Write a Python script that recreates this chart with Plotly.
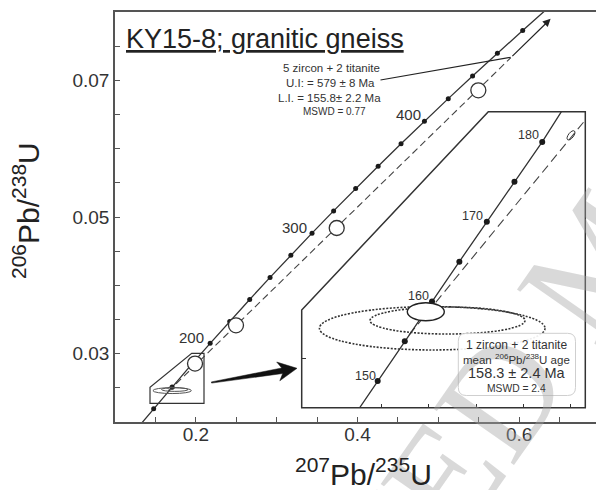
import plotly.graph_objects as go

# ---------------- data ----------------
# Concordia (main panel): ages in Ma and the matching ratios
conc_ages = [120, 140, 160, 180, 200, 220, 240, 260, 280, 300, 320, 340,
             360, 380, 400, 420, 440, 460, 480, 500]
conc_x = [0.125449, 0.147837, 0.170670, 0.193957, 0.217708, 0.241930, 0.266635,
          0.291832, 0.317529, 0.343738, 0.370468, 0.397729, 0.425533, 0.453890,
          0.482812, 0.512308, 0.542391, 0.573073, 0.604365, 0.636279]
conc_y = [0.018789, 0.021955, 0.025131, 0.028316, 0.031511, 0.034717, 0.037932,
          0.041157, 0.044392, 0.047637, 0.050893, 0.054158, 0.057434, 0.060720,
          0.064016, 0.067322, 0.070638, 0.073965, 0.077302, 0.080650]
main_label_ages = [200, 300, 400]

# Concordia (inset)
inset_ages = [145, 150, 155, 160, 165, 170, 175, 180, 185]
inset_x = [0.153503, 0.159197, 0.164919, 0.170670, 0.176449, 0.182256, 0.188092,
           0.193957, 0.199851]
inset_y = [0.022748, 0.023542, 0.024336, 0.025131, 0.025926, 0.026722, 0.027519,
           0.028316, 0.029196]
inset_label_ages = [150, 160, 170, 180]

# Discordia: lower and upper intercepts (155.8 Ma, 579 Ma)
disc_x = [0.165837, 0.768671]
disc_y = [0.024463, 0.093955]

# Analyses (open circles)
samp_x = [0.199, 0.2497, 0.3743, 0.5495]
samp_y = [0.02855, 0.03415, 0.04839, 0.06854]

# Error ellipses: centre x, centre y, half-width x, half-height y
ell_cx = [0.17072, 0.17395, 0.16936]
ell_cy = [0.024595, 0.024750, 0.024926]
ell_sx = [0.02383, 0.016374, 0.00391]
ell_sy = [0.000433, 0.000270, 0.000180]
ell_kind = ["titanite", "titanite", "zircon"]
small_ell = [0.20004, 0.028448]   # inherited zircon, top right of inset

x_tickvals = [0.2, 0.4, 0.6]
x_ticktext = ["0.2", "0.4", "0.6"]
y_tickvals = [0.03, 0.05, 0.07]
y_ticktext = ["0.03", "0.05", "0.07"]
inset_xticks = [0.16, 0.17, 0.18, 0.19, 0.20]
inset_yticks = [0.024]

# ---------------- layout helpers ----------------
W_FIG, H_FIG = 596, 490
ML, MR, MT, MB = 115, 0, 12, 68
PW, PH = W_FIG - ML - MR, H_FIG - MT - MB
BOT = H_FIG - MB

def P(px, py):
    return ((px - ML) / PW, (BOT - py) / PH)

XR = [0.1, 0.1 + PW / 808.3]
YR = [0.02, 0.08]

# inset frame in pixels
IX0, IX1, IY0, IY1 = 301.7, 585.3, 111.7, 407.7
IXR = [0.14314, 0.20306]
IYR = [0.023009, 0.028920]
sx_in = (IX1 - IX0) / (IXR[1] - IXR[0])
sy_in = (IY1 - IY0) / (IYR[1] - IYR[0])

def disc_x_at(yv):
    return disc_x[0] + (yv - disc_y[0]) * (disc_x[1] - disc_x[0]) / (disc_y[1] - disc_y[0])

def path_paper(points, close=True):
    s = ""
    for i, (px, py) in enumerate(points):
        a, b = P(px, py)
        s += ("M" if i == 0 else "L") + f"{a:.5f},{b:.5f} "
    return s + ("Z" if close else "")

def rounded_rect(x0, y0, x1, y1, r):
    def p(px, py):
        a, b = P(px, py)
        return f"{a:.5f},{b:.5f}"
    return (f"M{p(x0 + r, y0)} L{p(x1 - r, y0)} Q{p(x1, y0)} {p(x1, y0 + r)} "
            f"L{p(x1, y1 - r)} Q{p(x1, y1)} {p(x1 - r, y1)} L{p(x0 + r, y1)} "
            f"Q{p(x0, y1)} {p(x0, y1 - r)} L{p(x0, y0 + r)} Q{p(x0, y0)} {p(x0 + r, y0)} Z")

def tilted_ellipse_path(cxd, cyd, a, b, ang_deg):
    import math
    cx = IX0 + (cxd - IXR[0]) * sx_in
    cy = IY1 - (cyd - IYR[0]) * sy_in
    t = math.radians(ang_deg)
    u = (math.cos(t), -math.sin(t))
    v = (math.sin(t), math.cos(t))
    k = 0.5523
    def pt(ca, cb):
        px = cx + ca * a * u[0] + cb * b * v[0]
        py = cy + ca * a * u[1] + cb * b * v[1]
        X = IXR[0] + (px - IX0) / sx_in
        Y = IYR[0] + (IY1 - py) / sy_in
        return f"{X:.6f},{Y:.6f}"
    return (f"M{pt(1,0)} C{pt(1,k)} {pt(k,1)} {pt(0,1)} C{pt(-k,1)} {pt(-1,k)} {pt(-1,0)} "
            f"C{pt(-1,-k)} {pt(-k,-1)} {pt(0,-1)} C{pt(k,-1)} {pt(1,-k)} {pt(1,0)} Z")

FONT = "Liberation Sans, Arial, sans-serif"
DARK = "#333333"

fig = go.Figure()

# ---------------- main panel ----------------
y_dash_end, y_tip = 0.07333, 0.0790
fig.add_trace(go.Scatter(x=[disc_x[0], disc_x_at(y_dash_end)], y=[disc_y[0], y_dash_end],
                         mode="lines", line=dict(color="#444", width=1.1, dash="7px,4px"),
                         xaxis="x", yaxis="y", hoverinfo="skip"))
fig.add_trace(go.Scatter(x=conc_x, y=conc_y, mode="lines",
                         line=dict(color=DARK, width=1.3), xaxis="x", yaxis="y", hoverinfo="skip"))
fig.add_trace(go.Scatter(x=conc_x[1:-1], y=conc_y[1:-1], mode="markers",
                         marker=dict(color="#1a1a1a", size=5), xaxis="x", yaxis="y", hoverinfo="skip"))
fig.add_trace(go.Scatter(x=samp_x, y=samp_y, mode="markers",
                         marker=dict(color="white", size=15, line=dict(color=DARK, width=1.3)),
                         xaxis="x", yaxis="y", hoverinfo="skip"))

# ---------------- inset panel ----------------
fig.add_trace(go.Scatter(x=disc_x, y=disc_y, mode="lines",
                         line=dict(color="#444", width=1.1, dash="9px,5px"),
                         xaxis="x2", yaxis="y2", hoverinfo="skip"))
fig.add_trace(go.Scatter(x=inset_x, y=inset_y, mode="lines",
                         line=dict(color=DARK, width=1.3), xaxis="x2", yaxis="y2", hoverinfo="skip"))
fig.add_trace(go.Scatter(x=inset_x[1:-1], y=inset_y[1:-1], mode="markers",
                         marker=dict(color="#1a1a1a", size=6), xaxis="x2", yaxis="y2", hoverinfo="skip"))

shapes = []
# ellipses in inset and main panel
for cx, cy, sxv, syv, kind in zip(ell_cx, ell_cy, ell_sx, ell_sy, ell_kind):
    dotted = kind == "titanite"
    shapes.append(dict(type="circle", xref="x2", yref="y2",
                       x0=cx - sxv, x1=cx + sxv, y0=cy - syv, y1=cy + syv,
                       line=dict(color="#333" if dotted else "#222", width=1.6 if dotted else 1.4,
                                 dash="2px,1.5px" if dotted else "solid"),
                       fillcolor="white" if not dotted else "rgba(0,0,0,0)", layer="above"))
    shapes.append(dict(type="circle", xref="x", yref="y",
                       x0=cx - sxv, x1=cx + sxv, y0=cy - syv, y1=cy + syv,
                       line=dict(color="#555", width=1), layer="above"))
shapes.append(dict(type="path", xref="x2", yref="y2",
                   path=tilted_ellipse_path(small_ell[0], small_ell[1], 5.5, 2.6, 52),
                   line=dict(color="#333", width=1), layer="above"))

# zoom box in main panel
box = [(150, 387.3), (150, 403.3), (204, 403.3), (204, 353.3), (191.7, 353.3)]
shapes.append(dict(type="path", xref="paper", yref="paper", path=path_paper(box),
                   line=dict(color="#333", width=1.2), layer="below"))

# inset outline
outline = [(IX0, IY1), (IX1, IY1), (IX1, IY0), (488.3, IY0), (IX0, 310)]
shapes.append(dict(type="path", xref="paper", yref="paper", path=path_paper(outline),
                   line=dict(color="#333", width=1.5), layer="above"))

# inset result box
shapes.append(dict(type="path", xref="paper", yref="paper",
                   path=rounded_rect(458.3, 333.3, 575.5, 395.5, 8),
                   fillcolor="rgba(255,255,255,0.92)", line=dict(color="#cfcfcf", width=1),
                   layer="above"))

# big arrow
import math
T = (211.5, 382.5); TIP = (297.0, 368.3)
dx, dy = TIP[0] - T[0], TIP[1] - T[1]
Ln = math.hypot(dx, dy); d = (dx / Ln, dy / Ln); n = (-d[1], d[0])
def off(p, a, b):
    return (p[0] + a * d[0] + b * n[0], p[1] + a * d[1] + b * n[1])
arrow = [off(T, 0, -0.6), off(TIP, -15, -2.8), off(TIP, -19, -9.5), TIP,
         off(TIP, -19, 9.5), off(TIP, -15, 2.8), off(T, 0, 0.6)]
shapes.append(dict(type="path", xref="paper", yref="paper", path=path_paper(arrow),
                   fillcolor="#111", line=dict(color="#111", width=0.5), layer="above"))

# leader line
a0 = P(380.5, 80); a1 = P(510.5, 57.3)
shapes.append(dict(type="line", xref="paper", yref="paper", x0=a0[0], y0=a0[1], x1=a1[0], y1=a1[1],
                   line=dict(color="#222", width=1.1)))

annotations = []
# watermark (semi-transparent so that the chart shows through)
wx, wy = P(528, 356)
annotations.append(dict(xref="paper", yref="paper", x=wx, y=wy, text="TED MA", showarrow=False,
                        xanchor="center", yanchor="middle", textangle=-55,
                        font=dict(family="Liberation Serif, serif", size=150,
                                  color="rgba(165,165,165,0.42)")))

def ann(px, py, text, size, color=DARK, xanchor="center", **kw):
    a, b = P(px, py)
    d_ = dict(xref="paper", yref="paper", x=a, y=b, text=text, showarrow=False,
              xanchor=xanchor, yanchor="middle", font=dict(family=FONT, size=size, color=color))
    d_.update(kw)
    annotations.append(d_)

ann(124, 39.5, "<u>KY15-8; granitic gneiss</u>", 27, color="#222", xanchor="left")
ann(331.5, 68, "5 zircon + 2 titanite", 11.5)
ann(330, 82.8, "U.I: = 579 ± 8 Ma", 11.5)
ann(329, 98.3, "L.I. = 155.8± 2.2 Ma", 11.5)
ann(334, 111.7, "MSWD = 0.77", 10)

label_pos_main = [(191, 337), (294, 227), (408, 114.7)]
for age, (px, py) in zip(main_label_ages, label_pos_main):
    ann(px, py, str(age), 15)
label_pos_inset = [(365, 376), (418.7, 296), (472.5, 216), (528, 135)]
for age, (px, py) in zip(inset_label_ages, label_pos_inset):
    ann(px, py, str(age), 12.5)

ann(516.5, 344.7, "1 zircon + 2 titanite", 12)
ann(516.5, 358.5, "mean <sup>206</sup>Pb/<sup>238</sup>U age", 11.5)
ann(516.5, 373.0, "158.3 ± 2.4 Ma", 14.5)
ann(516.5, 388.3, "MSWD = 2.4", 10.3)

# axis titles
ann(363, 472, "<sup>207</sup>Pb/<sup>235</sup>U", 30, color="#222")
ann(26, 211, "<sup>206</sup>Pb/<sup>238</sup>U", 30, color="#222", textangle=-90)

# upper discordia arrow
annotations.append(dict(xref="x", yref="y", axref="x", ayref="y",
                        x=disc_x_at(y_tip), y=y_tip, ax=disc_x_at(y_dash_end), ay=y_dash_end,
                        text="", showarrow=True, arrowhead=2, arrowsize=1.3, arrowwidth=1.2,
                        arrowcolor="#222"))

axis_common = dict(showgrid=False, zeroline=False)
fig.update_layout(
    width=W_FIG, height=H_FIG,
    margin=dict(l=ML, r=MR, t=MT, b=MB),
    paper_bgcolor="white", plot_bgcolor="rgba(0,0,0,0)",
    showlegend=False,
    font=dict(family=FONT, color=DARK),
    xaxis=dict(domain=[0, 1], range=XR, showline=True, linecolor="#555", linewidth=1.5, mirror=True,
               ticks="inside", ticklen=5, tickwidth=1.2, tickcolor="#555",
               tickvals=x_tickvals, ticktext=x_ticktext, ticklabelstandoff=-6,
               minor=dict(ticks="inside", ticklen=5, tickwidth=1.2, tickcolor="#555",
                          tick0=0.1, dtick=0.05, showgrid=False),
               tickfont=dict(size=19, color="#333", family=FONT), **axis_common),
    yaxis=dict(domain=[0, 1], range=YR, showline=True, linecolor="#555", linewidth=1.5,
               ticks="inside", ticklen=5, tickwidth=1.2, tickcolor="#555",
               tickvals=y_tickvals, ticktext=y_ticktext,
               minor=dict(ticks="inside", ticklen=5, tickwidth=1.2, tickcolor="#555",
                          tick0=0.02, dtick=0.005, showgrid=False),
               tickfont=dict(size=19, color="#333", family=FONT), **axis_common),
    xaxis2=dict(domain=[(IX0 - ML) / PW, (IX1 - ML) / PW], anchor="y2", range=IXR,
                showline=False, ticks="inside", ticklen=4, tickwidth=1.1, tickcolor="#333",
                tickvals=inset_xticks, showticklabels=False, **axis_common),
    yaxis2=dict(domain=[(BOT - IY1) / PH, (BOT - IY0) / PH], anchor="x2", range=IYR,
                showline=False, ticks="inside", ticklen=4, tickwidth=1.1, tickcolor="#333",
                tickvals=inset_yticks, showticklabels=False, **axis_common),
    shapes=shapes,
    annotations=annotations,
)

fig.write_html("out.html")
